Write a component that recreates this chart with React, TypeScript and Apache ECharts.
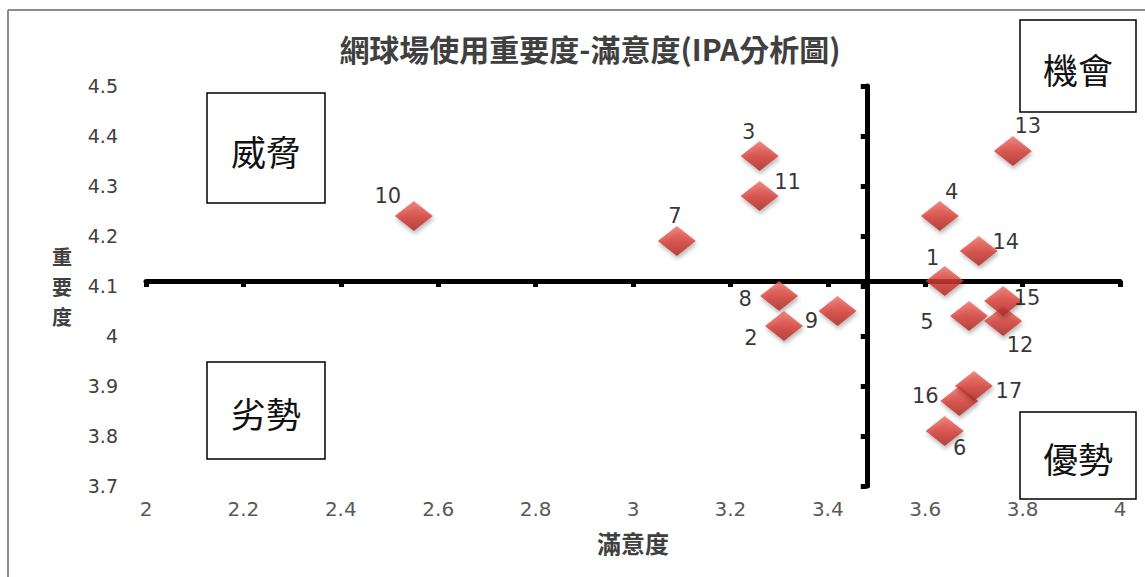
import React, { useEffect, useRef } from "react";
import * as echarts from "echarts";

// ---- data ----
const itemIds = ["1", "2", "3", "4", "5", "6", "7", "8", "9", "10", "11", "12", "13", "14", "15", "16", "17"];
const satisfaction = [3.64, 3.31, 3.26, 3.63, 3.69, 3.64, 3.09, 3.3, 3.42, 2.55, 3.26, 3.76, 3.78, 3.71, 3.76, 3.67, 3.7];
const importance = [4.11, 4.02, 4.36, 4.24, 4.04, 3.81, 4.19, 4.08, 4.05, 4.24, 4.28, 4.03, 4.37, 4.17, 4.07, 3.87, 3.9];
const meanSatisfaction = 3.48;
const meanImportance = 4.11;
const xMin = 2, xMax = 4, xStep = 0.2;
const yMin = 3.7, yMax = 4.5, yStep = 0.1;
const titleText = "網球場使用重要度-滿意度(IPA分析圖)";
const xName = "滿意度";
const yName = "重要度";
const quadrantNames = ["威脅", "機會", "劣勢", "優勢"];

// ---- style / layout (not data) ----
const labelOffsets: number[][] = [
  [-12, -23], [-33, 12], [-11, -24], [12, -24], [-42, 6], [15, 17], [-2, -25], [-34, 3], [-26, 10],
  [-26, -20], [28, -14], [17, 24], [15, -25], [27, -9], [24, -3], [-34, -5], [35, 5],
];
const W = 1145, H = 577;
const GRID = { left: 146, right: 25, top: 86, bottom: 91 };
const quadrantBoxes = [
  { x: 207, y: 93, w: 118, h: 110 },
  { x: 1020, y: 20, w: 116, h: 92 },
  { x: 207, y: 362, w: 118, h: 97 },
  { x: 1020, y: 412, w: 116, h: 87 },
];

export default function App() {
  const ref = useRef<HTMLDivElement>(null);
  useEffect(() => {
    if (!ref.current) return;
    const chart = echarts.init(ref.current, undefined, { renderer: "svg" });
    const gridW = W - GRID.left - GRID.right;
    const gridH = H - GRID.top - GRID.bottom;
    const xCrossOffset = -((meanImportance - yMin) / (yMax - yMin)) * gridH;
    const yCrossOffset = -((meanSatisfaction - xMin) / (xMax - xMin)) * gridW;

    const data = itemIds.map((id, i) => ({
      name: id,
      value: [satisfaction[i], importance[i]],
      label: { offset: labelOffsets[i] },
    }));

    const graphics: any[] = [
      { type: "line", shape: { x1: 8, y1: 10, x2: W, y2: 10 }, style: { stroke: "#8c8c8c", lineWidth: 2 } },
      { type: "line", shape: { x1: 8, y1: 10, x2: 8, y2: H }, style: { stroke: "#8c8c8c", lineWidth: 2 } },
    ];
    quadrantBoxes.forEach((b, i) => {
      graphics.push({
        type: "group",
        children: [
          { type: "rect", shape: { x: b.x, y: b.y, width: b.w, height: b.h }, style: { fill: "#fff", stroke: "#000", lineWidth: 1.5 } },
          {
            type: "text",
            x: b.x + b.w / 2,
            y: b.y + b.h / 2 + 2,
            style: {
              text: quadrantNames[i],
              fontSize: 35,
              fontFamily: "Noto Sans CJK TC",
              fill: "#111",
              align: "center",
              verticalAlign: "middle",
            },
          },
        ],
      });
    });

    const labelColor = "#404040";
    chart.setOption({
      animation: false,
      backgroundColor: "#fff",
      title: {
        text: titleText,
        left: 585,
        top: 28,
        textAlign: "center",
        textStyle: { fontSize: 30, fontWeight: "bold", color: "#404040", fontFamily: "Noto Sans CJK TC" },
      },
      grid: { ...GRID, containLabel: false, outerBoundsMode: "none" },
      xAxis: [
        {
          type: "value",
          min: xMin,
          max: xMax,
          interval: xStep,
          axisLine: { show: false, onZero: false },
          axisTick: { show: false },
          splitLine: { show: false },
          axisLabel: { fontSize: 20, color: "#595959", margin: 13, fontFamily: "DejaVu Sans" },
          name: xName,
          nameLocation: "middle",
          nameGap: 44,
          nameTextStyle: { fontSize: 24, fontWeight: "bold", color: labelColor, fontFamily: "Noto Sans CJK TC" },
        },
        {
          type: "value",
          min: xMin,
          max: xMax,
          interval: xStep,
          position: "bottom",
          offset: xCrossOffset,
          axisLine: { show: true, onZero: false, lineStyle: { color: "#000", width: 5 } },
          axisTick: { show: true, length: 6, lineStyle: { color: "#000", width: 5 } },
          axisLabel: { show: false },
          splitLine: { show: false },
        },
      ],
      yAxis: [
        {
          type: "value",
          min: yMin,
          max: yMax,
          interval: yStep,
          axisLine: { show: false, onZero: false },
          axisTick: { show: false },
          splitLine: { show: false },
          axisLabel: { fontSize: 19, color: labelColor, margin: 28, fontFamily: "DejaVu Sans" },
          name: yName.split("").join("\n"),
          nameLocation: "middle",
          nameRotate: 0,
          nameGap: 74,
          nameTextStyle: { fontSize: 20, fontWeight: "bold", color: labelColor, lineHeight: 30, fontFamily: "Noto Sans CJK TC" },
        },
        {
          type: "value",
          min: yMin,
          max: yMax,
          interval: yStep,
          position: "left",
          offset: yCrossOffset,
          axisLine: { show: true, onZero: false, lineStyle: { color: "#000", width: 5 } },
          axisTick: { show: true, length: 6, lineStyle: { color: "#000", width: 5 } },
          axisLabel: { show: false },
          splitLine: { show: false },
        },
      ],
      series: [
        {
          type: "scatter",
          xAxisIndex: 0,
          yAxisIndex: 0,
          symbol: "diamond",
          symbolSize: [38, 30],
          z: 5,
          itemStyle: {
            color: new echarts.graphic.LinearGradient(0, 0, 0, 1, [
              { offset: 0, color: "#ee6e66" },
              { offset: 0.5, color: "#d83c35" },
              { offset: 1, color: "#a9231e" },
            ]),
            shadowBlur: 4,
            shadowColor: "rgba(0,0,0,0.35)",
            shadowOffsetX: 1,
            shadowOffsetY: 3,
          },
          label: {
            show: true,
            position: "inside",
            formatter: "{b}",
            fontSize: 21,
            color: "#000",
            fontFamily: "DejaVu Sans",
          },
          data,
        },
      ],
      graphic: graphics,
    });
    return () => chart.dispose();
  }, []);
  return <div ref={ref} style={{ position: "fixed", left: 0, top: 0, width: W, height: H }} />;
}
